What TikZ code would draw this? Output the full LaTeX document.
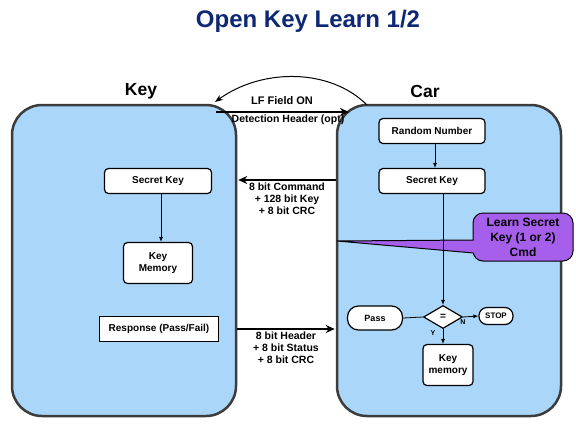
\documentclass[tikz,border=0pt]{standalone}
\usepackage{fontspec}
\setmainfont{Liberation Sans}
\usetikzlibrary{shapes.geometric,arrows.meta}

\definecolor{sideblue}{RGB}{170,214,250}
\definecolor{sideedge}{RGB}{60,60,60}
\definecolor{titleblue}{RGB}{15,40,115}
\definecolor{cmdpurple}{RGB}{165,95,235}

\begin{document}
\begin{tikzpicture}[
  x=1pt, y=-1pt,
  every node/.style={font=\bfseries\fontsize{10}{12}\selectfont, align=center, inner sep=1pt},
  sidebox/.style={draw=sideedge, line width=2.5pt, fill=sideblue, rounded corners=30pt,
    minimum width=224pt, minimum height=311pt},
  stepbox/.style={draw, line width=1.2pt, fill=white, rounded corners=4pt},
  endbox/.style={draw, line width=1.2pt, fill=white, rounded corners=8pt},
  msgarrow/.style={-{Stealth[length=9pt,width=8pt]}, line width=2.6pt},
  flow/.style={-{Latex[length=5pt,width=4pt]}, line width=0.8pt},
  msgtext/.style={font=\bfseries\fontsize{10.5}{12}\selectfont}
  ]

  \useasboundingbox (0,0) rectangle (576,432);

  % Title and side labels
  \node[font=\bfseries\fontsize{24}{28}\selectfont, text=titleblue] (title) at (308,21) {Open Key Learn 1/2};
  \node[font=\bfseries\fontsize{17.5}{20}\selectfont] (keylabel) at (141,91) {Key};
  \node[font=\bfseries\fontsize{17.5}{20}\selectfont] (carlabel) at (425,91) {Car};

  % Define side boxes
  \node[sidebox] (keybox) at (124,260.5) {};
  \node[sidebox] (carbox) at (449,260.5) {};

  % Key side
  \node[stepbox, minimum width=107pt, minimum height=25pt] (keysecret) at (158,181) {Secret Key};
  \node[stepbox, minimum width=69pt, minimum height=41pt] (keymem) at (158,263) {Key\\Memory};
  \node[draw, line width=1.2pt, fill=white, minimum width=119pt, minimum height=25pt] (response) at (159,329) {Response (Pass/Fail)};

  % Car side
  \node[stepbox, minimum width=106pt, minimum height=25pt] (random) at (432,131) {Random Number};
  \node[stepbox, minimum width=106pt, minimum height=25pt] (carsecret) at (432,181) {Secret Key};
  \node[diamond, draw, line width=1.2pt, fill=white, minimum width=39pt, minimum height=23pt, inner sep=0pt] (decide) at (443,317) {=};
  \node[endbox, minimum width=55pt, minimum height=24pt, rounded corners=11pt, font=\bfseries\fontsize{9}{11}\selectfont] (pass) at (375,318) {Pass};
  \node[endbox, minimum width=34pt, minimum height=17pt, font=\bfseries\fontsize{8}{10}\selectfont] (stop) at (496,316) {STOP};
  \node[stepbox, minimum width=50pt, minimum height=41pt] (carmem) at (448,365) {Key\\memory};

  % Callout
  \coordinate (learntip) at (337,241);
  \node[draw, line width=1pt, fill=cmdpurple, rounded corners=10pt, minimum width=100pt, minimum height=48pt,
    font=\bfseries\fontsize{12}{15}\selectfont] (learn) at (523,237) {Learn Secret\\Key (1 or 2)\\Cmd};
  \fill[cmdpurple] (learntip) -- ([xshift=3pt]learn.west |- 0,240) -- ([xshift=3pt]learn.west |- 0,253) -- cycle;
  \draw[line width=1pt] ([xshift=1pt]learn.west |- 0,240) -- (learntip) -- ([xshift=1pt]learn.west |- 0,253);

  % Flow inside boxes
  \draw[flow] ([xshift=3pt]keysecret.south) -- ([xshift=3pt]keymem.north);
  \draw[flow] ([xshift=3pt]random.south) -- ([xshift=3pt]carsecret.south |- carsecret.north);
  \draw[flow] (carsecret.south -| decide.north) -- (decide.north);
  \draw[line width=0.8pt] (pass.east) -- (decide.west);
  \draw[flow] (decide.east) -- (stop.west);
  \draw[flow] (decide.south) -- (decide.south |- carmem.north);
  \node[font=\bfseries\fontsize{7}{8}\selectfont] (nlabel) at (463,322) {N};
  \node[font=\bfseries\fontsize{7}{8}\selectfont] (ylabel) at (433,333) {Y};

  % Messages between key and car
  \coordinate (lfstart) at (367,105);
  \coordinate (lfend) at (215,102);
  \draw[-{Stealth[length=8pt,width=6pt]}, line width=1pt] (lfstart) .. controls (330,68) and (262,68) .. (lfend);
  \node[font=\bfseries\fontsize{11}{13}\selectfont] (lftext) at (282,101) {LF Field ON};

  \coordinate (detstart) at (216,112);
  \coordinate (detend) at (349,112);
  \draw[msgarrow] (detstart) -- (detend);
  \node[msgtext] (dettext) at (288,119.5) {Detection Header (opt)};

  \draw[msgarrow, shorten >=1pt] (carbox.west |- 0,180) -- (keybox.east |- 0,180);
  \node[msgtext] (cmdtext) at (287,199) {8 bit Command\\+ 128 bit Key\\+ 8 bit CRC};

  \draw[msgarrow, shorten >=1pt] (keybox.east |- 0,329) -- (carbox.west |- 0,329);
  \node[msgtext] (hdrtext) at (286,348) {8 bit Header\\+ 8 bit Status\\+ 8 bit CRC};

\end{tikzpicture}
\end{document}
